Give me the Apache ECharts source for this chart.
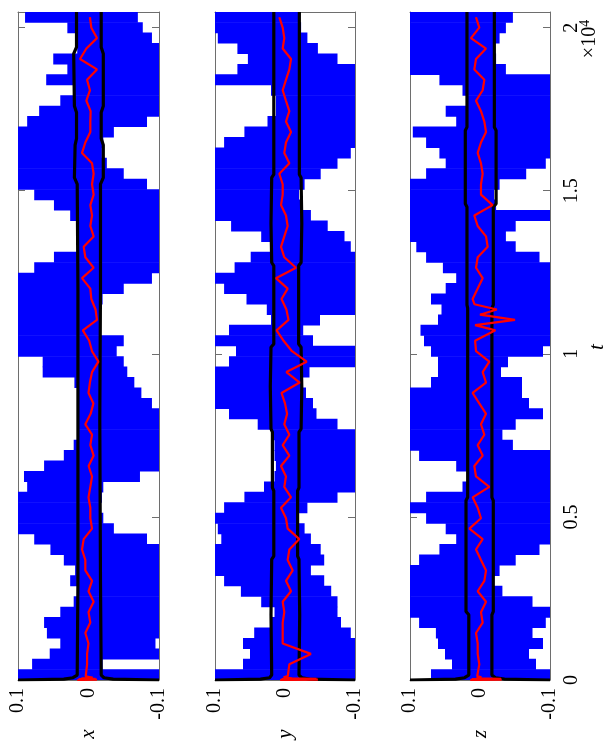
<!DOCTYPE html>
<html><head><meta charset="utf-8">
<script src="https://cdn.jsdelivr.net/npm/echarts@6/dist/echarts.min.js"></script>
<style>html,body{margin:0;padding:0;background:#fff}#c{width:604px;height:747px}</style>
</head><body><div id="c"></div>
<script>
// time axis
const T_MAX = 20480;
const BIN = 320; // each blue band covers one bin of t
const tTickLabels = {0:'0',5000:'0.5',10000:'1',15000:'1.5',20000:'2'};
const panelNames = ['x','y','z'];

// blue signal extent per bin (k = 0 at t = 0): upper value (hi) and lower value (lo)
const blueHiX = [0.1,0.08,0.055,0.04,0.059,0.063,0.040,0.021,0.016,0.026,0.019,0.035,0.054,0.077,0.1,0.1,0.1,0.1,0.087,0.0915,0.063,0.035,0.021,0.016,0.014,0.016,0.016,0.016,0.02,0.065,0.065,0.1,0.1,0.1,0.1,0.1,0.1,0.1,0.1,0.077,0.049,0.016,0.014,0.016,0.026,0.049,0.077,0.1,0.1,0.1,0.1,0.1,0.1,0.087,0.07,0.04,0.02,0.06,0.03,0.05,0.016,0.016,0.03,0.09];
const blueLoX = [-0.1,-0.02,-0.1,-0.095,-0.1,-0.1,-0.1,-0.1,-0.1,-0.1,-0.1,-0.1,-0.1,-0.083,-0.036,-0.021,-0.017,-0.019,-0.021,-0.073,-0.1,-0.1,-0.1,-0.1,-0.1,-0.1,-0.09,-0.075,-0.065,-0.055,-0.05,-0.04,-0.05,-0.017,-0.017,-0.017,-0.02,-0.05,-0.09,-0.1,-0.1,-0.1,-0.1,-0.1,-0.1,-0.1,-0.1,-0.083,-0.050,-0.026,-0.019,-0.021,-0.036,-0.083,-0.1,-0.1,-0.1,-0.1,-0.1,-0.1,-0.1,-0.09,-0.077,-0.07];
const blueHiY = [0.1,0.06,0.05,0.06,0.044,0.020,0.015,0.034,0.063,0.087,0.1,0.1,0.1,0.091,0.096,0.1,0.087,0.058,0.030,0.015,0.013,0.015,0.015,0.018,0.039,0.08,0.1,0.1,0.1,0.1,0.08,0.07,0.1,0.08,0.02,0.026,0.055,0.087,0.1,0.072,0.049,0.020,0.034,0.077,0.1,0.1,0.1,0.1,0.1,0.1,0.1,0.087,0.058,0.025,0.013,0.013,0.020,0.1,0.068,0.053,0.068,0.096,0.1,0.1];
const blueLoY = [-0.1,-0.1,-0.1,-0.1,-0.094,-0.08,-0.075,-0.075,-0.066,-0.056,-0.037,-0.056,-0.051,-0.037,-0.028,-0.020,-0.032,-0.075,-0.1,-0.1,-0.1,-0.1,-0.1,-0.1,-0.075,-0.045,-0.04,-0.03,-0.025,-0.035,-0.1,-0.1,-0.04,-0.026,-0.05,-0.1,-0.1,-0.1,-0.1,-0.1,-0.1,-0.094,-0.085,-0.061,-0.037,-0.023,-0.020,-0.028,-0.051,-0.075,-0.094,-0.1,-0.1,-0.1,-0.1,-0.1,-0.1,-0.1,-0.1,-0.075,-0.047,-0.032,-0.023,-0.020];
const blueHiZ = [0.07,0.04,0.05,0.06,0.063,0.087,0.1,0.1,0.1,0.1,0.1,0.087,0.058,0.034,0.049,0.077,0.1,0.077,0.025,0.018,0.034,0.087,0.1,0.1,0.1,0.1,0.1,0.1,0.07,0.06,0.06,0.07,0.08,0.085,0.06,0.055,0.07,0.049,0.034,0.053,0.077,0.091,0.1,0.1,0.1,0.1,0.1,0.1,0.077,0.049,0.058,0.077,0.096,0.034,0.049,0.020,0.025,0.058,0.1,0.1,0.1,0.1,0.1,0.1];
const blueLoZ = [-0.1,-0.08,-0.07,-0.09,-0.075,-0.094,-0.1,-0.075,-0.032,-0.020,-0.028,-0.051,-0.085,-0.1,-0.1,-0.1,-0.1,-0.1,-0.1,-0.1,-0.1,-0.1,-0.047,-0.032,-0.051,-0.09,-0.07,-0.06,-0.06,-0.03,-0.04,-0.09,-0.1,-0.1,-0.1,-0.1,-0.1,-0.1,-0.1,-0.1,-0.085,-0.051,-0.037,-0.051,-0.1,-0.023,-0.020,-0.028,-0.066,-0.094,-0.1,-0.1,-0.1,-0.1,-0.1,-0.1,-0.1,-0.1,-0.037,-0.023,-0.020,-0.028,-0.037,-0.047];

// red estimate at bin centres (t = k*BIN + BIN/2), plus start-up samples and extra samples [t, value]
const redX = [0.0045,0.002,0.002,0,0.0045,-0.0026,0,-0.0073,0,-0.005,0.0045,0.0045,0.0092,0.0068,-0.005,-0.0026,-0.0026,0,-0.0026,-0.005,-0.0002,-0.0073,-0.0026,-0.005,0.0045,-0.003,-0.007,0,-0.002,-0.005,-0.014,-0.005,-0.001,0.008,-0.012,-0.01,-0.004,-0.0026,0.0092,-0.0073,0.0045,0.0068,-0.0073,-0.0026,-0.005,-0.0026,-0.0073,-0.005,-0.0073,-0.005,0.0092,0.0045,-0.0026,-0.0026,-0.003,0.003,-0.002,0.002,-0.012,0.012,0.003,-0.012,-0.004,-0.002];
const redY = [-0.0014,-0.0062,-0.037,0.0033,0.0033,0.0033,0.001,0.0033,-0.0086,-0.0014,-0.011,-0.0038,-0.0062,-0.0205,-0.0038,-0.0014,0.0057,-0.0086,0.001,-0.0014,0.0057,-0.0062,0.0033,-0.0062,0.001,-0.003,0,0.005,-0.021,-0.002,-0.031,-0.01,0.002,0.012,-0.005,-0.002,0.005,-0.0038,0.0129,-0.0157,0.001,0.0057,0.001,-0.0038,-0.0014,0.0057,0.0033,0.0033,0.0081,-0.0062,0.001,-0.0014,-0.0086,-0.0014,-0.0062,-0.0014,0.0033,-0.0014,-0.0062,-0.0086,0.0033,0.001,0.0033,0.0081];
const redZ = [0.0057,0.001,0.0033,0.0033,0.0057,-0.0038,-0.0014,-0.0086,0.0033,-0.0062,-0.0086,-0.0014,0.0057,-0.0038,0.0152,-0.0014,0.0033,0.0105,-0.0133,0.0057,0.0081,-0.0038,0.0033,-0.0062,-0.0014,-0.0086,0.001,0.0105,-0.0086,-0.0038,-0.0133,0.0057,0.007,-0.022,-0.05,-0.024,0.0105,0.0033,-0.0038,0.0057,0.0033,-0.011,-0.0086,0.0033,0.0081,-0.018,-0.0014,-0.0014,-0.0038,-0.0014,0.0033,-0.0014,-0.0086,-0.0062,-0.0014,0.0057,-0.0038,-0.0062,0.0081,0.0057,-0.0086,0.0129,0.001,0.0057];
const redStartX = [[0,0.016],[12,-0.012],[24,0.014],[36,-0.01],[50,0.01],[70,-0.006],[110,0.004]];
const redStartY = [[0,0.007],[12,-0.047],[24,0.005],[36,-0.045],[50,-0.01],[80,0.002],[120,-0.004]];
const redStartZ = [[0,0.014],[12,-0.031],[24,0.012],[36,-0.03],[50,0.005],[80,-0.002],[120,0.004]];
const redExtraZ = [[10880,0.007],[11200,0.0],[11520,0.008]];

// black bounds [t, value]
const blackHiX = [[0,0.1],[25,0.035],[70,0.022],[150,0.016],[3000,0.015],[8000,0.015],[12000,0.015],[15200,0.016],[15400,0.02],[16400,0.019],[16600,0.017],[17400,0.017],[17600,0.02],[19200,0.021],[19400,0.017],[20480,0.017]];
const blackLoX = [[0,-0.1],[25,-0.035],[70,-0.022],[150,-0.018],[3000,-0.017],[8000,-0.016],[12000,-0.017],[15200,-0.017],[15400,-0.021],[16400,-0.021],[16600,-0.018],[17400,-0.018],[17600,-0.021],[19200,-0.021],[19400,-0.018],[20480,-0.018]];
const blackHiY = [[0,0.1],[25,0.035],[70,0.022],[150,0.019],[2000,0.02],[3700,0.019],[3800,0.016],[5800,0.016],[5900,0.018],[7600,0.018],[7700,0.02],[9000,0.021],[10200,0.02],[10300,0.016],[12700,0.016],[12800,0.019],[14000,0.02],[15400,0.019],[15500,0.016],[20480,0.016]];
const blackLoY = [[0,-0.1],[25,-0.035],[70,-0.024],[150,-0.02],[2000,-0.021],[3700,-0.02],[3800,-0.018],[5800,-0.018],[5900,-0.02],[7600,-0.02],[7700,-0.023],[9000,-0.024],[10200,-0.023],[10300,-0.0195],[12700,-0.0195],[12800,-0.023],[14000,-0.024],[15400,-0.023],[15500,-0.0205],[20480,-0.0205]];
const blackHiZ = [[0,0.1],[25,0.035],[70,0.022],[150,0.016],[2000,0.016],[2100,0.02],[5500,0.02],[5600,0.0176],[11400,0.0176],[11500,0.0186],[14500,0.0186],[14600,0.021],[16850,0.021],[16950,0.0186],[20480,0.0186]];
const blackLoZ = [[0,-0.1],[25,-0.035],[70,-0.022],[150,-0.017],[2000,-0.017],[2100,-0.019],[5500,-0.019],[5600,-0.017],[11400,-0.017],[11500,-0.019],[14500,-0.019],[14600,-0.023],[16850,-0.023],[16950,-0.0205],[20480,-0.0205]];

const panels = [
  {hi: blueHiX, lo: blueLoX, red: redX, redStart: redStartX, redExtra: [], bHi: blackHiX, bLo: blackLoX},
  {hi: blueHiY, lo: blueLoY, red: redY, redStart: redStartY, redExtra: [], bHi: blackHiY, bLo: blackLoY},
  {hi: blueHiZ, lo: blueLoZ, red: redZ, redStart: redStartZ, redExtra: redExtraZ, bHi: blackHiZ, bLo: blackLoZ}
];

const FONT = "'Liberation Serif','Times New Roman',serif";
const gridLefts = [18, 215, 410];
const gridWidths = [141, 140, 140];
const GRID_TOP = 12, GRID_H = 668;
const AX = '#6e6e6e';

const grids = [], xAxes = [], yAxes = [], series = [];
panels.forEach((p, i) => {
  grids.push({left: gridLefts[i], top: GRID_TOP, width: gridWidths[i], height: GRID_H, show: false});
  const vFmt = v => (Math.abs(v) < 1e-9 ? '0' : (v > 0 ? '0.1' : '-0.1'));
  xAxes.push({gridIndex: i, type: 'value', min: -0.1, max: 0.1, interval: 0.1, inverse: true, position: 'bottom',
    axisLine: {show: true, onZero: false, lineStyle: {color: AX, width: 1}},
    axisTick: {show: true, inside: true, length: 7, lineStyle: {color: AX}},
    axisLabel: {rotate: 90, margin: 8, fontSize: 20, fontFamily: FONT, color: '#000', formatter: vFmt},
    splitLine: {show: false}});
  yAxes.push({gridIndex: i, type: 'value', min: 0, max: T_MAX, interval: 5000, position: 'left',
    axisLine: {show: true, onZero: false, lineStyle: {color: AX, width: 1}},
    axisTick: {show: true, inside: true, length: 7, lineStyle: {color: AX}},
    axisLabel: {show: false}, splitLine: {show: false}});
});
panels.forEach((p, i) => {
  xAxes.push({gridIndex: i, type: 'value', min: -0.1, max: 0.1, interval: 0.1, inverse: true, position: 'top',
    axisLine: {show: true, onZero: false, lineStyle: {color: AX, width: 1}},
    axisTick: {show: true, inside: true, length: 7, lineStyle: {color: AX}},
    axisLabel: {show: false}, splitLine: {show: false}});
  yAxes.push({gridIndex: i, type: 'value', min: 0, max: T_MAX, interval: 5000, position: 'right',
    axisLine: {show: true, onZero: false, lineStyle: {color: AX, width: 1}},
    axisTick: {show: true, inside: true, length: 7, lineStyle: {color: AX}},
    axisLabel: {show: i === 2, rotate: 90, margin: 12, fontSize: 20, fontFamily: FONT, color: '#000',
      showMaxLabel: false, formatter: v => (tTickLabels[v] !== undefined ? tTickLabels[v] : '')},
    splitLine: {show: false}});
});

function blueRender(params, api) {
  const lo = api.value(0), hi = api.value(1), t0 = api.value(2), t1 = api.value(3);
  const a = api.coord([hi, t1]), b = api.coord([lo, t0]);
  const cs = params.coordSys;
  const r = echarts.graphic.clipRectByRect(
    {x: Math.min(a[0], b[0]), y: Math.min(a[1], b[1]) - 0.3, width: Math.abs(b[0] - a[0]), height: Math.abs(b[1] - a[1]) + 0.6},
    {x: cs.x, y: cs.y, width: cs.width, height: cs.height});
  return r ? {type: 'rect', shape: r, style: {fill: '#0000ff'}} : null;
}

panels.forEach((p, i) => {
  const blueData = p.hi.map((h, k) => [p.lo[k], h, k * BIN, Math.min((k + 1) * BIN, T_MAX)]);
  series.push({type: 'custom', xAxisIndex: i, yAxisIndex: i, renderItem: blueRender,
    encode: {x: [0, 1], y: [2, 3]}, data: blueData, silent: true, z: 1});
  [p.bHi, p.bLo].forEach(b => series.push({type: 'line', xAxisIndex: i, yAxisIndex: i, showSymbol: false, silent: true,
    data: b.map(d => [d[1], d[0]]), lineStyle: {color: '#000', width: 3.2}, z: 3}));
  const pts = p.redStart.concat(p.red.map((v, k) => [k * BIN + BIN / 2, v]), p.redExtra).sort((u, w) => u[0] - w[0]);
  series.push({type: 'line', xAxisIndex: i, yAxisIndex: i, showSymbol: false, silent: true,
    data: pts.map(d => [d[1], d[0]]), lineStyle: {color: '#ff0000', width: 2.2}, z: 4});
});

const graphics = [];
panelNames.forEach((n, i) => {
  graphics.push({type: 'text', x: gridLefts[i] + gridWidths[i] / 2, y: 734, rotation: Math.PI / 2,
    style: {text: n, font: "italic 21px " + FONT, fill: '#000', textAlign: 'center', textVerticalAlign: 'middle'}});
});
graphics.push({type: 'text', x: 590, y: 39, rotation: Math.PI / 2,
  style: {text: '×10{s|4}', rich: {s: {fontSize: 14, fontFamily: FONT, padding: [0, 0, 9, 0]}},
    font: "20px " + FONT, fill: '#000', textAlign: 'center', textVerticalAlign: 'middle'}});
graphics.push({type: 'text', x: 597, y: 347, rotation: Math.PI / 2,
  style: {text: 't', font: "italic 21px " + FONT, fill: '#000', textAlign: 'center', textVerticalAlign: 'middle'}});

const chart = echarts.init(document.getElementById('c'), null, {renderer: 'canvas'});
chart.setOption({animation: false, backgroundColor: '#fff', grid: grids, xAxis: xAxes, yAxis: yAxes, series: series, graphic: graphics});
</script></body></html>
